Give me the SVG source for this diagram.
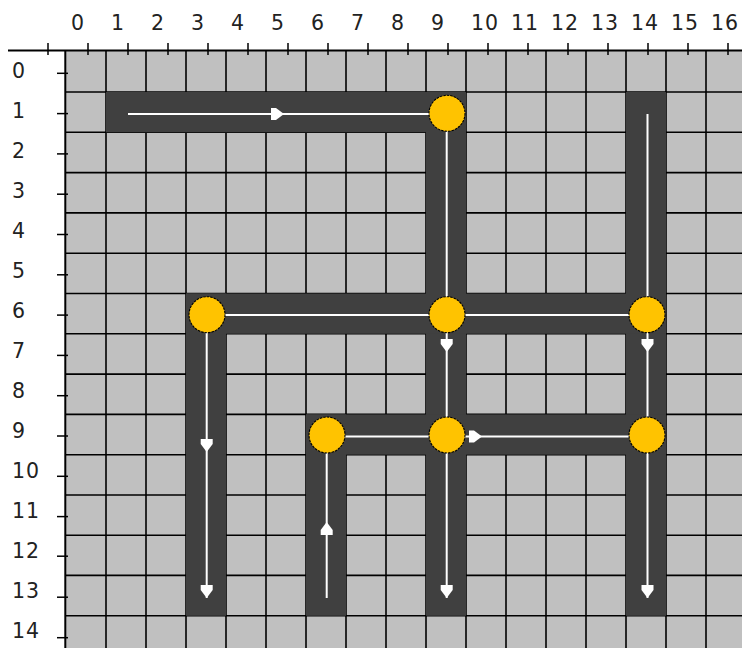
<svg xmlns="http://www.w3.org/2000/svg" xmlns:xlink="http://www.w3.org/1999/xlink" width="742" height="648" viewBox="0 0 742 648">
<style>
.lbl{font-family:"DejaVu Sans","Liberation Sans",sans-serif;font-size:20.5px;fill:#222;letter-spacing:1px}
.grid line{stroke:#000;stroke-width:1.6}
.tick{stroke:#000;stroke-width:1.5}
.road{fill:#404040}
.flow{stroke:#fff;stroke-width:2;fill:none}
.node{fill:#FFC300;stroke:#000;stroke-width:1.1;stroke-dasharray:2.5 1}
.ah{fill:#fff}
</style>
<defs>
<path id="ah" class="ah" d="M0,0 L-8,-6 L-13,-6 L-13,6 L-8,6 Z"/>
</defs>
<rect x="0" y="0" width="742" height="648" fill="#fff"/>
<!-- grid cells -->
<g id="grid" class="grid">
<rect x="65.5" y="51" width="680" height="600" fill="#c0c0c0"/>
<line x1="106" y1="51" x2="106" y2="648"/><line x1="146" y1="51" x2="146" y2="648"/>
<line x1="186" y1="51" x2="186" y2="648"/><line x1="226" y1="51" x2="226" y2="648"/>
<line x1="266" y1="51" x2="266" y2="648"/><line x1="306" y1="51" x2="306" y2="648"/>
<line x1="346" y1="51" x2="346" y2="648"/><line x1="386" y1="51" x2="386" y2="648"/>
<line x1="426" y1="51" x2="426" y2="648"/><line x1="466" y1="51" x2="466" y2="648"/>
<line x1="506" y1="51" x2="506" y2="648"/><line x1="546" y1="51" x2="546" y2="648"/>
<line x1="586" y1="51" x2="586" y2="648"/><line x1="626" y1="51" x2="626" y2="648"/>
<line x1="666" y1="51" x2="666" y2="648"/><line x1="706" y1="51" x2="706" y2="648"/>
<line x1="65" y1="92" x2="742" y2="92"/><line x1="65" y1="132.3" x2="742" y2="132.3"/>
<line x1="65" y1="172.6" x2="742" y2="172.6"/><line x1="65" y1="212.9" x2="742" y2="212.9"/>
<line x1="65" y1="253.2" x2="742" y2="253.2"/><line x1="65" y1="293.5" x2="742" y2="293.5"/>
<line x1="65" y1="333.8" x2="742" y2="333.8"/><line x1="65" y1="374.1" x2="742" y2="374.1"/>
<line x1="65" y1="414.4" x2="742" y2="414.4"/><line x1="65" y1="454.7" x2="742" y2="454.7"/>
<line x1="65" y1="495" x2="742" y2="495"/><line x1="65" y1="535.3" x2="742" y2="535.3"/>
<line x1="65" y1="575.4" x2="742" y2="575.4"/><line x1="65" y1="615.8" x2="742" y2="615.8"/>
</g>
<!-- roads -->
<g id="roads">
<rect class="road" x="106" y="92" width="360" height="40.3"/>
<rect class="road" x="426" y="92" width="40" height="523.8"/>
<rect class="road" x="626" y="92" width="40" height="523.8"/>
<rect class="road" x="186" y="293.5" width="480" height="40.3"/>
<rect class="road" x="186" y="293.5" width="40" height="322.3"/>
<rect class="road" x="306" y="414.4" width="360" height="40.3"/>
<rect class="road" x="306" y="414.4" width="40" height="201.4"/>
</g>
<!-- axes -->
<g id="axes">
<line x1="8" y1="50.6" x2="742" y2="50.6" stroke="#000" stroke-width="2"/>
<line x1="65.3" y1="50" x2="65.3" y2="648" stroke="#000" stroke-width="2"/>
<g class="tick">
<line x1="48" y1="43" x2="48" y2="55"/><line x1="88" y1="43" x2="88" y2="55"/>
<line x1="128" y1="43" x2="128" y2="55"/><line x1="168" y1="43" x2="168" y2="55"/>
<line x1="208" y1="43" x2="208" y2="55"/><line x1="248" y1="43" x2="248" y2="55"/>
<line x1="288" y1="43" x2="288" y2="55"/><line x1="328" y1="43" x2="328" y2="55"/>
<line x1="368" y1="43" x2="368" y2="55"/><line x1="408" y1="43" x2="408" y2="55"/>
<line x1="448" y1="43" x2="448" y2="55"/><line x1="488" y1="43" x2="488" y2="55"/>
<line x1="528" y1="43" x2="528" y2="55"/><line x1="568" y1="43" x2="568" y2="55"/>
<line x1="608" y1="43" x2="608" y2="55"/><line x1="648" y1="43" x2="648" y2="55"/>
<line x1="688" y1="43" x2="688" y2="55"/><line x1="728" y1="43" x2="728" y2="55"/>
<line x1="57" y1="73.3" x2="68" y2="73.3"/><line x1="57" y1="113.6" x2="68" y2="113.6"/>
<line x1="57" y1="153.9" x2="68" y2="153.9"/><line x1="57" y1="194.2" x2="68" y2="194.2"/>
<line x1="57" y1="234.5" x2="68" y2="234.5"/><line x1="57" y1="274.8" x2="68" y2="274.8"/>
<line x1="57" y1="315.1" x2="68" y2="315.1"/><line x1="57" y1="355.4" x2="68" y2="355.4"/>
<line x1="57" y1="395.7" x2="68" y2="395.7"/><line x1="57" y1="436" x2="68" y2="436"/>
<line x1="57" y1="476.3" x2="68" y2="476.3"/><line x1="57" y1="516.6" x2="68" y2="516.6"/>
<line x1="57" y1="556.2" x2="68" y2="556.2"/><line x1="57" y1="597.2" x2="68" y2="597.2"/>
<line x1="57" y1="637.7" x2="68" y2="637.7"/>
</g>
<g class="lbl">
<text x="71" y="30">0</text><text x="111" y="30">1</text><text x="151" y="30">2</text>
<text x="191" y="30">3</text><text x="231" y="30">4</text><text x="271" y="30">5</text>
<text x="311" y="30">6</text><text x="351" y="30">7</text><text x="391" y="30">8</text>
<text x="431" y="30">9</text><text x="471" y="30">10</text><text x="511" y="30">11</text>
<text x="551" y="30">12</text><text x="591" y="30">13</text><text x="631" y="30">14</text>
<text x="671" y="30">15</text><text x="711" y="30">16</text>
<text x="12" y="78.3">0</text><text x="12" y="118.3">1</text><text x="12" y="158.3">2</text>
<text x="12" y="198.3">3</text><text x="12" y="238.3">4</text><text x="12" y="278.3">5</text>
<text x="12" y="318.3">6</text><text x="12" y="358.3">7</text><text x="12" y="398.3">8</text>
<text x="12" y="438.3">9</text><text x="12" y="478.3">10</text><text x="12" y="518.3">11</text>
<text x="12" y="558.3">12</text><text x="12" y="598.3">13</text><text x="12" y="638.3">14</text>
</g>
</g>
<!-- connectors -->
<g id="connectors">
<path class="flow" d="M128,114 H447"/>
<path class="flow" d="M446.7,113 V598"/>
<path class="flow" d="M647.5,114 V598"/>
<path class="flow" d="M207,315 H647"/>
<path class="flow" d="M206.7,315 V598"/>
<path class="flow" d="M327,436.5 H647"/>
<path class="flow" d="M326.7,598 V435"/>
<use xlink:href="#ah" transform="translate(284,114)"/>
<use xlink:href="#ah" transform="translate(446.7,352) rotate(90)"/>
<use xlink:href="#ah" transform="translate(647.5,352) rotate(90)"/>
<use xlink:href="#ah" transform="translate(206.7,452) rotate(90)"/>
<use xlink:href="#ah" transform="translate(326.7,522) rotate(-90)"/>
<use xlink:href="#ah" transform="translate(482,436.5)"/>
<use xlink:href="#ah" transform="translate(206.7,598) rotate(90)"/>
<use xlink:href="#ah" transform="translate(446.7,598) rotate(90)"/>
<use xlink:href="#ah" transform="translate(647.5,598) rotate(90)"/>
</g>
<!-- nodes -->
<g id="n_9_1"><circle class="node" cx="447" cy="113.3" r="18"/></g>
<g id="n_3_6"><circle class="node" cx="207" cy="314.7" r="18"/></g>
<g id="n_9_6"><circle class="node" cx="447" cy="314.7" r="18"/></g>
<g id="n_14_6"><circle class="node" cx="647" cy="314.7" r="18"/></g>
<g id="n_6_9"><circle class="node" cx="327" cy="435" r="18"/></g>
<g id="n_9_9"><circle class="node" cx="447" cy="435" r="18"/></g>
<g id="n_14_9"><circle class="node" cx="647" cy="435" r="18"/></g>
</svg>
